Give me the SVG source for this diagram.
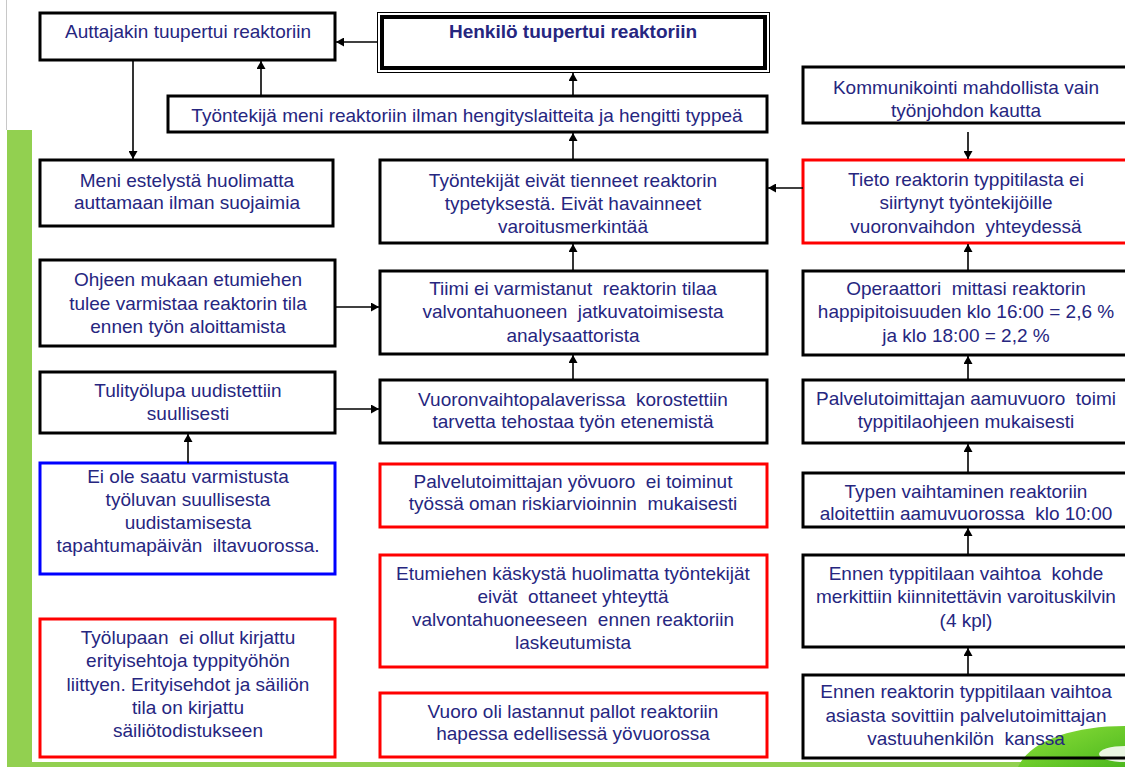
<svg xmlns="http://www.w3.org/2000/svg" width="1125" height="767" viewBox="0 0 1125 767">
<style>
.box{fill:#ffffff;stroke:#000000;stroke-width:3}
.red{fill:#ffffff;stroke:#ff0000;stroke-width:3}
.blue{fill:#ffffff;stroke:#0000ff;stroke-width:3}
text{font-family:"Liberation Sans",Arial,sans-serif;font-size:19px;fill:#26267f;text-anchor:middle;white-space:pre}
.b{font-weight:bold}
.con line{stroke:#000000;stroke-width:1.6;marker-end:url(#ah)}
</style>
<defs>
<marker id="ah" markerUnits="userSpaceOnUse" markerWidth="9" markerHeight="9" refX="8" refY="4.5" orient="auto">
<path d="M0,0 L8,4.5 L0,9 Z" fill="#000000"/>
</marker>
<linearGradient id="sw" x1="0" y1="0" x2="1" y2="1">
<stop offset="0" stop-color="#8fe03a"/>
<stop offset="1" stop-color="#4cb81e"/>
</linearGradient>
</defs>
<rect width="1125" height="767" fill="#ffffff"/>
<line x1="6.5" y1="0" x2="6.5" y2="130" stroke="#c8c8c8" stroke-width="1"/>
<rect x="7" y="130" width="25" height="637" fill="#92d050"/>
<rect x="7" y="762" width="1118" height="5" fill="#92d050"/>
<path d="M1018,767 C1030,740 1075,726 1125,726 L1125,767 Z" fill="url(#sw)"/>
<ellipse cx="1125" cy="754" rx="26" ry="8" fill="#eaf6e2"/>

<g id="n1"><rect class="box" x="40" y="13" width="295" height="47"/><text x="188" y="38">Auttajakin tuupertui reaktoriin</text></g>
<g id="n2"><rect x="377.5" y="12.5" width="392" height="60" fill="#ffffff" stroke="#000000" stroke-width="1"/><rect x="382" y="17" width="383" height="51" fill="none" stroke="#000000" stroke-width="4"/><text class="b" x="573" y="38">Henkilö tuupertui reaktoriin</text></g>
<g id="n3"><rect class="box" x="168" y="96" width="599" height="36"/><text x="467" y="122">Työntekijä meni reaktoriin ilman hengityslaitteita ja hengitti typpeä</text></g>
<g id="n4"><rect class="box" x="40" y="160" width="293" height="66"/><text x="187" y="187">Meni estelystä huolimatta</text><text x="187" y="209">auttamaan ilman suojaimia</text></g>
<g id="n5"><rect class="box" x="380" y="160" width="387" height="83"/><text x="573" y="187">Työntekijät eivät tienneet reaktorin</text><text x="573" y="210">typetyksestä. Eivät havainneet</text><text x="573" y="233">varoitusmerkintää</text></g>
<g id="n6"><rect class="box" x="803" y="67" width="326" height="56"/><text x="966" y="94">Kommunikointi mahdollista vain</text><text x="966" y="117">työnjohdon kautta</text></g>
<g id="n7"><rect class="red" x="803" y="160" width="326" height="83"/><text x="966" y="186">Tieto reaktorin typpitilasta ei</text><text x="966" y="209">siirtynyt työntekijöille</text><text x="966" y="233">vuoronvaihdon  yhteydessä</text></g>
<g id="n8"><rect class="box" x="40" y="260" width="295" height="86"/><text x="188" y="286">Ohjeen mukaan etumiehen</text><text x="188" y="310">tulee varmistaa reaktorin tila</text><text x="188" y="333">ennen työn aloittamista</text></g>
<g id="n9"><rect class="box" x="380" y="271" width="387" height="83"/><text x="573" y="295">Tiimi ei varmistanut  reaktorin tilaa</text><text x="573" y="318">valvontahuoneen  jatkuvatoimisesta</text><text x="573" y="342">analysaattorista</text></g>
<g id="n10"><rect class="box" x="40" y="372" width="295" height="61"/><text x="188" y="397">Tulityölupa uudistettiin</text><text x="188" y="420">suullisesti</text></g>
<g id="n11"><rect class="box" x="380" y="380" width="387" height="63"/><text x="573" y="406">Vuoronvaihtopalaverissa  korostettiin</text><text x="573" y="428">tarvetta tehostaa työn etenemistä</text></g>
<g id="n12"><rect class="blue" x="40" y="463" width="295" height="111"/><text x="188" y="483">Ei ole saatu varmistusta</text><text x="188" y="506">työluvan suullisesta</text><text x="188" y="529">uudistamisesta</text><text x="188" y="552">tapahtumapäivän  iltavuorossa.</text></g>
<g id="n13"><rect class="red" x="380" y="464" width="387" height="63"/><text x="573" y="488">Palvelutoimittajan yövuoro  ei toiminut</text><text x="573" y="510">työssä oman riskiarvioinnin  mukaisesti</text></g>
<g id="n14"><rect class="red" x="380" y="555" width="387" height="112"/><text x="573" y="580">Etumiehen käskystä huolimatta työntekijät</text><text x="573" y="603">eivät  ottaneet yhteyttä</text><text x="573" y="626">valvontahuoneeseen  ennen reaktoriin</text><text x="573" y="649">laskeutumista</text></g>
<g id="n15"><rect class="red" x="380" y="693" width="387" height="64"/><text x="573" y="718">Vuoro oli lastannut pallot reaktoriin</text><text x="573" y="740">hapessa edellisessä yövuorossa</text></g>
<g id="n16"><rect class="red" x="40" y="619" width="295" height="138"/><text x="188" y="644">Työlupaan  ei ollut kirjattu</text><text x="188" y="667">erityisehtoja typpityöhön</text><text x="188" y="691">liittyen. Erityisehdot ja säiliön</text><text x="188" y="714">tila on kirjattu</text><text x="188" y="737">säiliötodistukseen</text></g>
<g id="n17"><rect class="box" x="803" y="271" width="326" height="84"/><text x="966" y="295">Operaattori  mittasi reaktorin</text><text x="966" y="318">happipitoisuuden klo 16:00 = 2,6 %</text><text x="966" y="342">ja klo 18:00 = 2,2 %</text></g>
<g id="n18"><rect class="box" x="803" y="380" width="326" height="63"/><text x="966" y="405">Palvelutoimittajan aamuvuoro  toimi</text><text x="966" y="428">typpitilaohjeen mukaisesti</text></g>
<g id="n19"><rect class="box" x="803" y="473" width="326" height="54"/><text x="966" y="498">Typen vaihtaminen reaktoriin</text><text x="966" y="520">aloitettiin aamuvuorossa  klo 10:00</text></g>
<g id="n20"><rect class="box" x="803" y="555" width="326" height="92"/><text x="966" y="580">Ennen typpitilaan vaihtoa  kohde</text><text x="966" y="603">merkittiin kiinnitettävin varoituskilvin</text><text x="966" y="627">(4 kpl)</text></g>
<g id="n21"><rect x="803" y="675" width="326" height="83" fill="none" stroke="#000000" stroke-width="3"/><text x="966" y="698">Ennen reaktorin typpitilaan vaihtoa</text><text x="966" y="722">asiasta sovittiin palvelutoimittajan</text><text x="966" y="745">vastuuhenkilön  kanssa</text></g>

<g id="connectors" class="con">
<line x1="377" y1="42" x2="336" y2="42"/>
<line x1="261" y1="96" x2="261" y2="61"/>
<line x1="573" y1="96" x2="573" y2="73"/>
<line x1="133" y1="60" x2="133" y2="159"/>
<line x1="573" y1="160" x2="573" y2="133"/>
<line x1="968" y1="132" x2="968" y2="159"/>
<line x1="803" y1="188" x2="768" y2="188"/>
<line x1="335" y1="307" x2="379" y2="307"/>
<line x1="573" y1="271" x2="573" y2="244"/>
<line x1="335" y1="409" x2="379" y2="409"/>
<line x1="573" y1="380" x2="573" y2="355"/>
<line x1="188" y1="463" x2="188" y2="434"/>
<line x1="968" y1="271" x2="968" y2="244"/>
<line x1="968" y1="380" x2="968" y2="356"/>
<line x1="968" y1="473" x2="968" y2="444"/>
<line x1="968" y1="555" x2="968" y2="528"/>
<line x1="968" y1="675" x2="968" y2="648"/>
</g>
</svg>
